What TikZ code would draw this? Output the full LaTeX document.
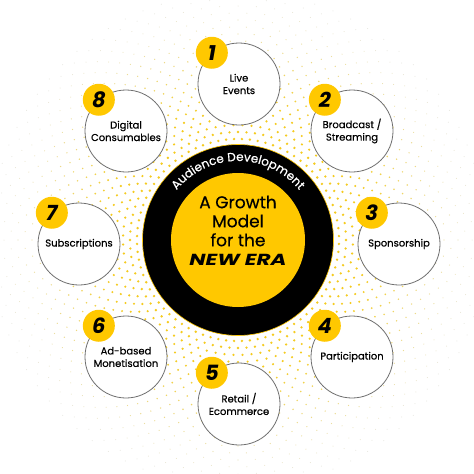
\documentclass[tikz,border=0pt]{standalone}
\usepackage{fontspec}
\usepackage{graphicx}
\setmainfont{Poppins}
\newfontfamily\medfont{Poppins}[FakeBold=0.5]
\usetikzlibrary{decorations.text}
\definecolor{gold}{HTML}{FFC800}
\definecolor{dotgold}{HTML}{F5CB1E}
\definecolor{dotgray}{HTML}{E6E6DE}
\definecolor{ringgray}{HTML}{707070}
\tikzset{
  item/.style={circle, draw=ringgray, line width=0.8pt, fill=white, minimum size=82pt, inner sep=0pt, align=center, font=\medfont\fontsize{10}{12.5}\selectfont},
  badge/.style={circle, fill=gold, minimum size=32pt, inner sep=0pt, font=\fontsize{21}{21}\selectfont\bfseries\itshape}
}
\begin{document}
\begin{tikzpicture}[x=1pt,y=-1pt]
\useasboundingbox (0,0) rectangle (474,474);
\fill[white] (0,0) rectangle (474,474);
\coordinate (C) at (238,240);
% halftone dots
\foreach \r [count=\k] in {101,108,...,248} {
  \pgfmathsetmacro\s{max(0.5, 1.35 - (\r-100)*0.007)}
  \pgfmathsetmacro\m{max(0, min(100, 100 - (\r-130)*0.9))}
  \pgfmathsetmacro\off{mod(\k,2)*2.25}
  \foreach \a in {0,4.5,...,355.5}
    \fill[dotgold!\m!dotgray] (C) ++(\a+\off:\r pt) circle[radius=\s pt];
}
% centre
\node[circle, fill=black, draw=gold, line width=0.6pt, minimum size=191pt, inner sep=0pt] (ring) at (C) {};
\node[circle, fill=gold, minimum size=134pt, inner sep=0pt] (core) at (C) {};
\path[decorate, decoration={text along path, text align=center, text color=white,
  text={|\medfont\fontsize{12}{12}\selectfont|Audience Development}}]
  (C) ++(160:79pt) arc[start angle=160, end angle=20, radius=79pt];
\node[align=center, font=\medfont\fontsize{17}{19}\selectfont] (title) at (238,221) {A Growth\\Model\\for the};
\node[font=\fontsize{16}{16}\selectfont\bfseries\itshape] (era) at (238,260) {\scalebox{1.35}[1]{NEW ERA}};
% items
\node[item] (c1) at (239,84) {Live\\Events};
\node[item] (c2) at (352,131) {Broadcast /\\Streaming};
\node[item] (c3) at (399,244) {Sponsorship};
\node[item] (c4) at (352,357) {Participation};
\node[item] (c5) at (239,404) {Retail /\\Ecommerce};
\node[item] (c6) at (126,357) {Ad-based\\Monetisation};
\node[item] (c7) at (79,244) {Subscriptions};
\node[item] (c8) at (126,131) {Digital\\Consumables};
\foreach \i in {1,...,8}
  \node[badge] (b\i) at (c\i.131) {\i};
\end{tikzpicture}
\end{document}
